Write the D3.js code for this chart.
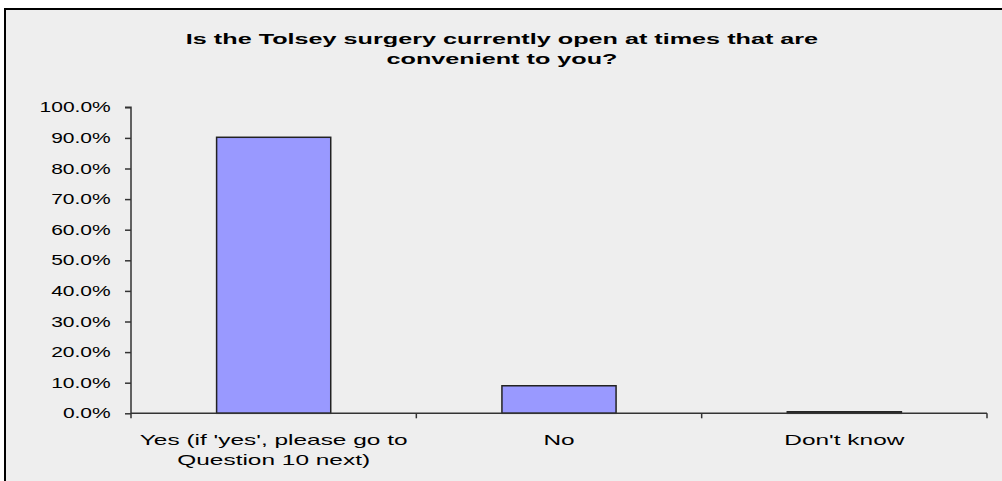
<!DOCTYPE html>
<html><head><meta charset="utf-8">
<script src="https://cdn.jsdelivr.net/npm/d3@7"></script>
<style>
html,body{margin:0;padding:0;background:#fff;}
svg{display:block;}
text{font-family:"Liberation Sans",Arial,sans-serif;fill:#000;}
</style></head>
<body>
<svg id="chart" width="1002" height="481"></svg>
<script>
const titleLines = ["Is the Tolsey surgery currently open at times that are", "convenient to you?"];
const categories = ["Yes (if 'yes', please go to|Question 10 next)", "No", "Don't know"];
const values = [0.902, 0.090, 0.005];
const yTicks = [0, 0.1, 0.2, 0.3, 0.4, 0.5, 0.6, 0.7, 0.8, 0.9, 1.0];

const svg = d3.select("#chart");
const W = 1002, H = 481;

// frame
svg.append("rect").attr("x", 5).attr("y", 9).attr("width", W + 100).attr("height", H + 100)
  .attr("fill", "#eeeeee").attr("stroke", "#000").attr("stroke-width", 2);

const plot = {left: 131, right: 987, top: 107.3, bottom: 413.3};
const x = d3.scaleBand().domain(categories).range([plot.left, plot.right]).paddingInner(0.6).paddingOuter(0.3);
const xb = d3.scaleBand().domain(categories).range([plot.left, plot.right]);
const y = d3.scaleLinear().domain([0, 1]).range([plot.bottom, plot.top]);

function stretchedText(g, tx, ty, str, size, weight, anchor, sx) {
  return g.append("text")
    .attr("transform", `translate(${tx},${ty}) scale(${sx},1)`)
    .attr("text-anchor", anchor)
    .attr("font-size", size)
    .attr("font-weight", weight)
    .text(str);
}

// title
titleLines.forEach((t, i) => stretchedText(svg, 502, 43.5 + i * 20, t, 14, "bold", "middle", 1.8));

// bars
svg.append("g").selectAll("rect").data(categories).join("rect")
  .attr("x", d => x(d))
  .attr("width", x.bandwidth())
  .attr("y", (d, i) => y(values[i]))
  .attr("height", (d, i) => plot.bottom - y(values[i]))
  .attr("fill", "#9999ff").attr("stroke", "#222").attr("stroke-width", 1.5);

// y axis
const yAxis = d3.axisLeft(y).tickValues(yTicks).tickSize(6).tickFormat(() => "");
const gy = svg.append("g").attr("transform", `translate(${plot.left},0)`).call(yAxis);
gy.selectAll("path,line").attr("stroke", "#333").attr("stroke-width", 1.5);
gy.select(".domain").attr("d", `M-6,${plot.top}H0V${plot.bottom}`);
yTicks.forEach(v => stretchedText(svg, 110.7, y(v) + 5, d3.format(".1%")(v), 14, "normal", "end", 1.5));

// x axis
const bounds = xb.domain().map(d => xb(d)).concat([plot.right]);
const gx = svg.append("g");
gx.append("line").attr("x1", plot.left).attr("x2", plot.right).attr("y1", plot.bottom).attr("y2", plot.bottom)
  .attr("stroke", "#333").attr("stroke-width", 1.5);
gx.selectAll("line.tick").data(bounds).join("line").attr("class", "tick")
  .attr("x1", d => d).attr("x2", d => d).attr("y1", plot.bottom).attr("y2", plot.bottom + 5)
  .attr("stroke", "#333").attr("stroke-width", 1.5);
categories.forEach(c => {
  c.split("|").forEach((line, i) => stretchedText(svg, xb(c) + xb.bandwidth() / 2, 445 + i * 20, line, 14, "normal", "middle", 1.745));
});
</script>
</body></html>
